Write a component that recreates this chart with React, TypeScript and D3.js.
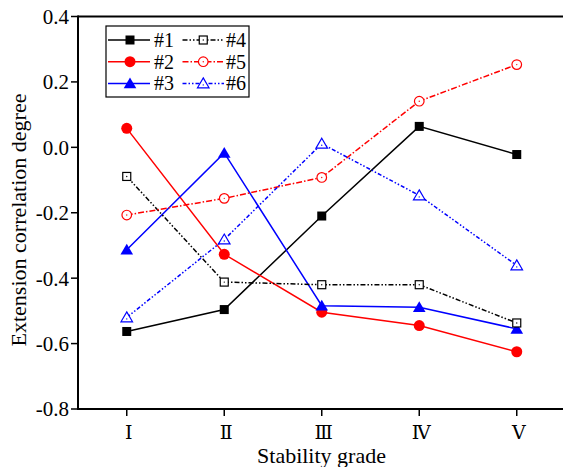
import React from 'react'
import * as d3 from 'd3'

const grades = ['Ⅰ', 'Ⅱ', 'Ⅲ', 'Ⅳ', 'Ⅴ']
const yTicks = [0.4, 0.2, 0.0, -0.2, -0.4, -0.6, -0.8]

const s1 = [-0.563, -0.496, -0.21, 0.064, -0.022]
const s2 = [0.058, -0.327, -0.504, -0.545, -0.625]
const s3 = [-0.313, -0.017, -0.484, -0.489, -0.555]
const s4 = [-0.089, -0.412, -0.42, -0.42, -0.537]
const s5 = [-0.207, -0.156, -0.092, 0.141, 0.253]
const s6 = [-0.52, -0.282, 0.011, -0.147, -0.361]

type Series = { name: string; values: number[]; color: string; dash: string; marker: string; filled: boolean }

const series: Series[] = [
  { name: '#1', values: s1, color: '#000000', dash: '', marker: 'square', filled: true },
  { name: '#2', values: s2, color: '#ff0000', dash: '', marker: 'circle', filled: true },
  { name: '#3', values: s3, color: '#0000ff', dash: '', marker: 'triangle', filled: true },
  { name: '#4', values: s4, color: '#000000', dash: '5,2,1.5,2,1.5,2', marker: 'square', filled: false },
  { name: '#5', values: s5, color: '#ff0000', dash: '6,2,1.5,2', marker: 'circle', filled: false },
  { name: '#6', values: s6, color: '#0000ff', dash: '4,2,1.5,2,1.5,2', marker: 'triangle', filled: false },
]

const font = "'Liberation Serif', 'DejaVu Serif', serif"

function Marker({ x, y, s }: { x: number; y: number; s: Series }) {
  const fill = s.filled ? s.color : '#fff'
  const sw = s.filled ? 0 : 1.2
  let shape: React.ReactNode
  if (s.marker === 'square') {
    const h = s.filled ? 4.5 : 4
    shape = <rect x={x - h} y={y - h} width={2 * h} height={2 * h} fill={fill} stroke={s.color} strokeWidth={sw} />
  } else if (s.marker === 'circle') {
    shape = <circle cx={x} cy={y} r={s.filled ? 5.5 : 4.8} fill={fill} stroke={s.color} strokeWidth={sw} />
  } else {
    const h = s.filled ? 6 : 5.5
    shape = (
      <path
        d={`M${x},${y - h}L${x + h * 1.05},${y + h * 0.8}L${x - h * 1.05},${y + h * 0.8}Z`}
        fill={fill}
        stroke={s.color}
        strokeWidth={sw}
      />
    )
  }
  return (
    <g>
      {shape}
      {!s.filled && <circle cx={x} cy={s.marker === 'triangle' ? y + 1.5 : y} r={0.7} fill={s.color} />}
    </g>
  )
}

export default function App() {
  const width = 563
  const height = 467
  const x = d3.scaleLinear().domain([0.5, 5.5]).range([78, 565.5])
  const y = d3.scaleLinear().domain([-0.8, 0.4]).range([409, 16.5])
  const line = d3.line<number>()
    .x((_, i) => x(i + 1))
    .y(d => y(d))

  const legendRows = [0, 1, 2]
  const legendY = (r: number) => 40 + r * 21.7

  return (
    <svg width={width} height={height} style={{ position: 'absolute', left: 0, top: 0, background: '#fff', fontFamily: font }}>
      {/* frame */}
      <line x1={x(0.5)} x2={x(5.5)} y1={y(0.4)} y2={y(0.4)} stroke="#000" strokeWidth={2} />
      <line x1={x(0.5)} x2={x(5.5)} y1={y(-0.8)} y2={y(-0.8)} stroke="#000" strokeWidth={2} />
      <line x1={x(0.5)} x2={x(0.5)} y1={y(0.4) - 1} y2={y(-0.8) + 1} stroke="#000" strokeWidth={2} />

      {yTicks.map(t => (
        <g key={t}>
          <line x1={x(0.5) - 7} x2={x(0.5)} y1={y(t)} y2={y(t)} stroke="#000" strokeWidth={1.5} />
          <text x={x(0.5) - 9} y={y(t)} dy="0.35em" textAnchor="end" fontSize={21}>
            {d3.format('.1f')(t).replace('−', '-')}
          </text>
        </g>
      ))}
      {grades.map((g, i) => (
        <g key={g}>
          <line x1={x(i + 1)} x2={x(i + 1)} y1={y(-0.8)} y2={y(-0.8) + 7} stroke="#000" strokeWidth={1.5} />
          <text x={x(i + 1) + 2} y={439} textAnchor="middle" fontSize={19}>{g}</text>
        </g>
      ))}
      <text x={321.5} y={463} textAnchor="middle" fontSize={22}>Stability grade</text>
      <text transform="translate(26,220) rotate(-90)" textAnchor="middle" fontSize={22}>Extension correlation degree</text>

      {series.map(s => (
        <path key={s.name} d={line(s.values) || ''} fill="none" stroke={s.color} strokeWidth={1.5} strokeDasharray={s.dash} />
      ))}
      {series.map(s => s.values.map((v, i) => <Marker key={s.name + i} x={x(i + 1)} y={y(v)} s={s} />))}

      {/* legend */}
      <rect x={106} y={26} width={143} height={71} fill="#fff" stroke="#000" strokeWidth={1.2} />
      {series.map((s, k) => {
        const col = k < 3 ? 0 : 1
        const row = legendRows[k % 3]
        const ly = legendY(row)
        const x0 = col === 0 ? 108 : 182.5
        const x1 = col === 0 ? 150 : 224
        return (
          <g key={'lg' + s.name}>
            <line x1={x0} x2={x1} y1={ly} y2={ly} stroke={s.color} strokeWidth={1.5} strokeDasharray={s.dash} />
            <Marker x={(x0 + x1) / 2 + (col === 0 ? 1 : 0)} y={ly} s={s} />
            <text x={col === 0 ? 154 : 226} y={ly} dy="0.35em" fontSize={20}>{s.name}</text>
          </g>
        )
      })}
    </svg>
  )
}
